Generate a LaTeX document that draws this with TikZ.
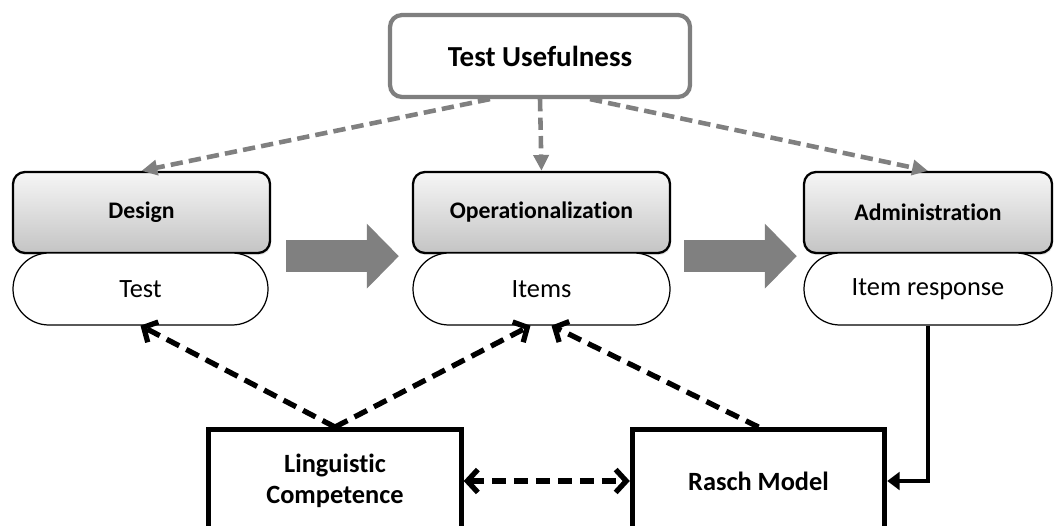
\documentclass[tikz,border=0pt]{standalone}
\usepackage{fontspec}
\setmainfont{Carlito}[Ligatures={NoCommon,NoContextual}]
\usetikzlibrary{arrows.meta,shadows}

\definecolor{tuframe}{RGB}{127, 127, 127}
\definecolor{stagetop}{RGB}{246, 246, 246}
\definecolor{stagebottom}{RGB}{196, 196, 196}
\definecolor{flowgray}{RGB}{128, 128, 128}

\begin{document}
\begin{tikzpicture}[
  x=1cm,
  y=1cm,
  topbox/.style={draw=tuframe, line width=2.4pt, rounded corners=0.24cm, fill=white, minimum width=6cm, minimum height=1.64cm, font=\bfseries\fontsize{16.5}{19}\selectfont},
  stagebox/.style={draw=black, line width=1.3pt, rounded corners=0.24cm, top color=stagetop, bottom color=stagebottom, minimum height=1.62cm, font=\bfseries\fontsize{13.5}{16}\selectfont, drop shadow={opacity=0.2, shadow xshift=0.6pt, shadow yshift=-1.2pt}},
  outbox/.style={draw=black, line width=0.7pt, rounded corners=0.72cm, fill=white, minimum height=1.44cm, font=\fontsize{15}{18}\selectfont},
  modelbox/.style={draw=black, line width=2.8pt, fill=white, minimum width=5.05cm, minimum height=2.06cm, align=center, font=\bfseries\fontsize{15}{18}\selectfont, drop shadow={opacity=0.2, shadow xshift=0.8pt, shadow yshift=-1.2pt}},
  grayflow/.style={draw=flowgray, line width=2.6pt, dash pattern=on 7pt off 3.5pt, -{Triangle[length=9pt, width=8.5pt]}},
  linkflow/.style={draw=black, line width=3pt, dash pattern=on 8pt off 4.5pt, -{Straight Barb[length=6pt, width=13pt]}},
  linkboth/.style={linkflow, {Straight Barb[length=6pt, width=13pt]}-{Straight Barb[length=6pt, width=13pt]}},
  feedflow/.style={draw=black, line width=2.8pt, -{Triangle[length=7pt, width=10pt]}},
  bigarrow/.style={draw=flowgray, line width=0.64cm, -{Triangle[length=0.64cm, width=1.26cm]}}
]

  \useasboundingbox (0, 0) rectangle (21.08, 10.5);

  % Top node
  \node[topbox] (tu) at (10.8, 9.38) {Test Usefulness};

  % Three stages with their outputs
  \node[stagebox, minimum width=5.14cm] (design) at (2.83, 6.25) {Design};
  \node[outbox, minimum width=5.1cm] (test) at (2.81, 4.72) {Test};

  \node[stagebox, minimum width=5.14cm] (oper) at (10.83, 6.25) {Operationalization};
  \node[outbox, minimum width=5.14cm] (items) at (10.83, 4.72) {Items};

  \node[stagebox, minimum width=4.96cm] (admin) at (18.56, 6.25) {Administration};
  \node[outbox, minimum width=4.96cm] (resp) at (18.56, 4.72) {Item response};

  % Bottom boxes
  \node[modelbox] (ling) at (6.70, 0.88) {Linguistic\\Competence};
  \node[modelbox] (rasch) at (15.17, 0.88) {Rasch Model};

  % Block arrows between stages
  \draw[bigarrow] ([xshift=0.3cm, yshift=-0.04cm]design.south east) -- ([xshift=-0.26cm, yshift=-0.04cm]oper.south west);
  \draw[bigarrow] ([xshift=0.26cm, yshift=-0.04cm]oper.south east) -- ([xshift=-0.12cm, yshift=-0.04cm]admin.south west);

  % Usefulness over every stage
  \draw[grayflow] ([xshift=-1cm]tu.south) -- (design.north);
  \draw[grayflow] (tu.south) -- (oper.north);
  \draw[grayflow] ([xshift=1cm]tu.south) -- (admin.north);

  % Links from the bottom boxes
  \draw[linkflow] (ling.north) -- (test.south);
  \draw[linkflow] (ling.north) -- ([xshift=-0.22cm]items.south);
  \draw[linkflow] (rasch.north) -- ([xshift=0.2cm]items.south);
  \draw[linkboth] (ling.east) -- (rasch.west);
  \draw[feedflow] (resp.south) |- (rasch.east);

\end{tikzpicture}
\end{document}
